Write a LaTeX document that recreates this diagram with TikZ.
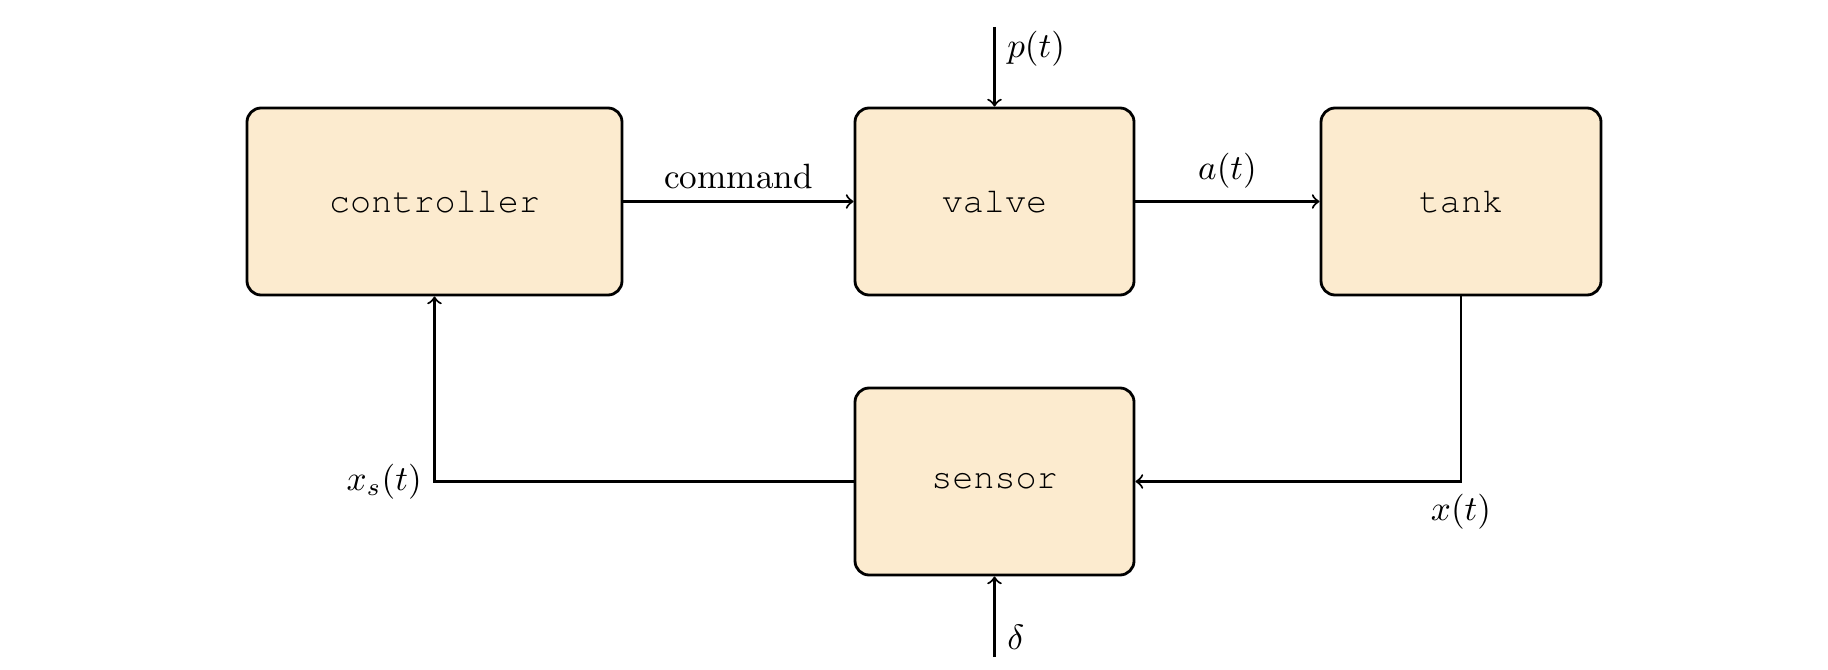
\documentclass[tikz,border=0pt]{standalone}
\newcommand\myboxfont{\fontencoding{OT1}\fontfamily{pcr}\selectfont}
\definecolor{boxfill}{RGB}{252,235,207}
\begin{document}
\begin{tikzpicture}[
  blockbox/.style={draw, thick, fill=boxfill, rounded corners=4pt, minimum height=1.87cm, font=\myboxfont},
  conn/.style={semithick, ->}
]
\useasboundingbox (0,0) rectangle (18.28,-6.70);
\node[blockbox, minimum width=3.75cm] (ctrl) at (4.345,-2.015) {controller};
\node[blockbox, minimum width=2.79cm] (valve) at (9.945,-2.015) {valve};
\node[blockbox, minimum width=2.80cm] (tank) at (14.61,-2.015) {tank};
\node[blockbox, minimum width=2.79cm] (sensor) at (9.945,-4.815) {sensor};
\coordinate (ptop) at (9.945,-0.27);
\coordinate (dbot) at (9.945,-6.57);
\coordinate (xcorner) at (tank.south |- sensor.east);
\coordinate (xscorner) at (ctrl.south |- sensor.west);
\draw[conn] (ctrl.east) -- node[above] {command} (valve.west);
\draw[conn] (valve.east) -- node[above] {$a(t)$} (tank.west);
\draw[conn] (ptop) -- node[pos=0.27, right] {$p(t)$} (valve.north);
\draw[conn] (dbot) -- node[pos=0.25, right] {$\delta$} (sensor.south);
\draw[conn] (tank.south) -- (xcorner) node[below] {$x(t)$} -- (sensor.east);
\draw[conn] (sensor.west) -- (xscorner) node[left] {$x_s(t)$} -- (ctrl.south);
\end{tikzpicture}
\end{document}
